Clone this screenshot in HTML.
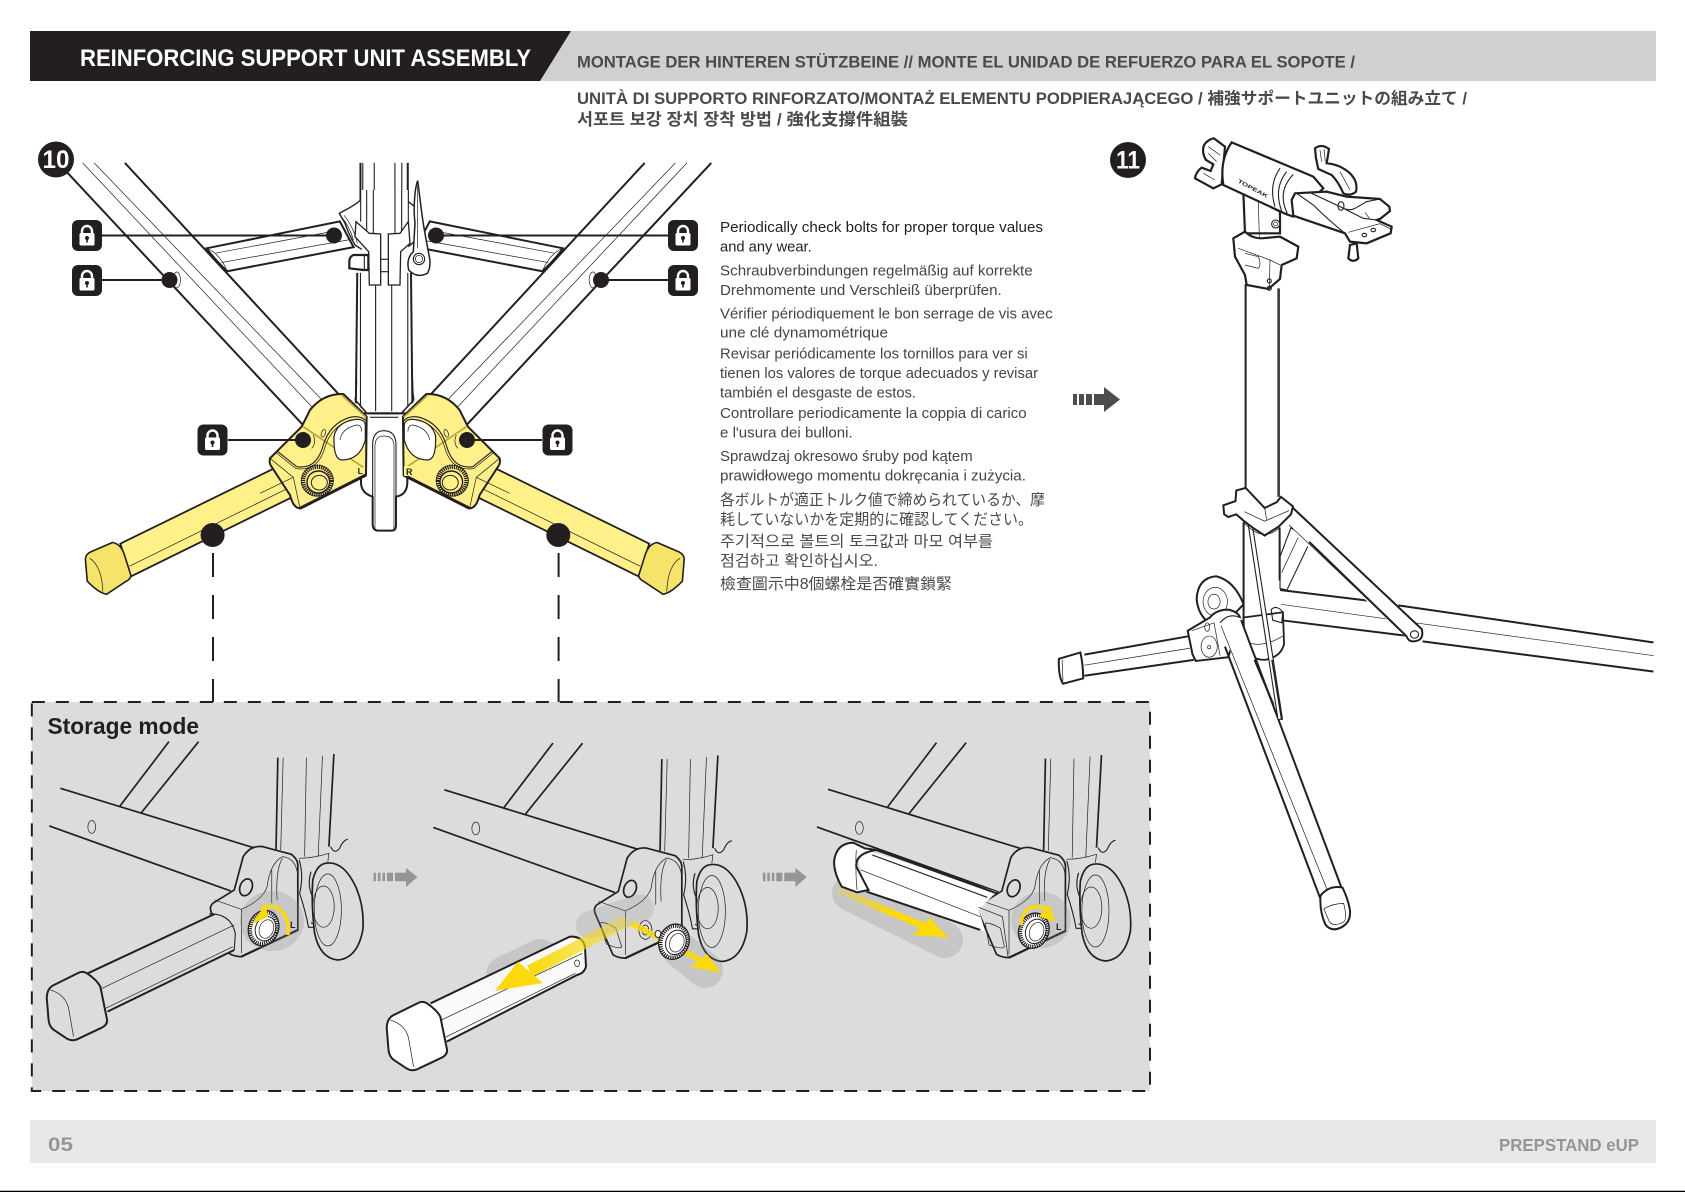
<!DOCTYPE html>
<html><head><meta charset="utf-8"><style>
html,body{margin:0;padding:0;background:#fff}
svg{display:block}
svg *{vector-effect:non-scaling-stroke}
text{stroke:none}
.thin{stroke-width:.7}
.med{stroke-width:1.1}
.b{font-family:"Liberation Sans","Noto Sans CJK JP",sans-serif;font-size:14.5px;fill:#444}
.c{font-size:15.5px;font-weight:400;fill:#4a4a4a}
</style></head><body>
<svg width="1685" height="1192" viewBox="0 0 1685 1192" xmlns="http://www.w3.org/2000/svg">
<defs>
<linearGradient id="fl" x1="1" y1="0" x2="0" y2="0"><stop offset="0" stop-color="#fbd90a" stop-opacity=".35"/><stop offset="1" stop-color="#fbd90a"/></linearGradient>
<linearGradient id="fr" x1="0" y1="0" x2="1" y2="0"><stop offset="0" stop-color="#fbd90a" stop-opacity=".2"/><stop offset=".6" stop-color="#fbd90a"/></linearGradient>
<g id="lock">
<rect x="0" y="0" width="30" height="31" rx="6" fill="#231f20"/>
<path d="M10,14 V11 a5,5 0 0 1 10,0 V14" fill="none" stroke="#fff" stroke-width="2.4"/>
<rect x="7.5" y="13" width="15" height="12.5" rx="1.5" fill="#fff"/>
<circle cx="15" cy="18" r="2" fill="#231f20"/><rect x="14.2" y="18" width="1.6" height="4.5" fill="#231f20"/>
</g>
<g id="ga" fill="#959595">
<rect x="373.6" y="872.7" width="2.5" height="8.5"/><rect x="378" y="872.7" width="2.5" height="8.5"/><rect x="382.5" y="872.7" width="2.5" height="8.5"/><rect x="387" y="872.7" width="6" height="8.5"/><rect x="395" y="872.7" width="12" height="8.5"/>
<polygon points="406,868 417.5,877 406,887"/>
</g>
<path id="cap" d="M75,925 Q75,895 95,885 L165,848 Q178,842 190,852 Q215,870 225,890 L243,985 Q248,1005 225,1015 L160,1048 Q145,1055 130,1045 L95,1020 Q82,1010 80,990Z"/>
<!-- storage view base, in crop-4 coordinates -->
<g id="vb" fill="none" stroke="#231f20" stroke-width="1.7">
<path d="M113,295 L660,475"/><path d="M82,408 L590,603"/><path d="M417,155 L280,348"/><path d="M500,155 L340,368"/>
<ellipse cx="201" cy="411" rx="11" ry="19" class="thin"/>
<path d="M722,203 L717,478"/><path d="M879,192 L865,470"/>
<path class="thin" d="M737,203 L730,480M802,203 L797,500M847,197 L835,500"/>
<path class="med" d="M870,470 Q880,495 895,475 Q905,450 918,448"/>
<path class="thin" d="M780,505 Q820,505 865,490 L862,515"/>
<path fill="#dcdcdc" stroke="none" d="M780,510 L830,530 L860,700 L805,712Z"/>
<path class="med" d="M782,510 Q795,560 783,610 Q800,665 808,712 L828,712"/>
<path class="med" d="M815,545 Q800,595 830,640 Q850,675 835,695 Q825,708 815,698"/>
<path fill="#dcdcdc" d="M855,520 Q905,510 940,590 Q965,650 960,720 Q945,805 890,810 Q840,805 825,730 Q815,640 820,570 Q830,525 855,520Z"/>
<ellipse cx="862" cy="660" rx="38" ry="108" class="thin"/><ellipse cx="850" cy="650" rx="30" ry="62" class="thin"/>
<path fill="#dcdcdc" d="M540,640 L600,600 Q615,540 625,500 Q645,465 680,470 L760,493 Q780,510 778,530 L778,720 L620,800 Q600,800 585,790 L535,665 Q530,650 540,640Z"/>
<path d="M620,800 L778,720" stroke-width="2.2"/>
<ellipse cx="633" cy="592" rx="17" ry="26" transform="rotate(18 633 592)"/>
<path class="thin" d="M545,630 L620,658 L620,790M620,658 Q680,630 692,590 Q700,520 735,500 Q775,505 778,560M705,540 L705,640M735,505 Q715,540 720,630"/>
</g>
<!-- knob -->
<g id="kn" fill="none" stroke="#231f20">
<ellipse cx="0" cy="0" rx="15" ry="18" fill="#fff" stroke-width="1.2"/>
<ellipse cx="0" cy="0" rx="13" ry="16" stroke-width="3.6" stroke-dasharray="1.2 1"/>
<ellipse cx="2" cy="0" rx="10" ry="12.5" fill="#fff" stroke-width="1"/>
<ellipse cx="3" cy="0" rx="7" ry="9.5" stroke-width=".7"/>
</g>
<!-- half of step 10 -->
<g id="half">
<g transform="scale(.4592,.3954)" fill="none" stroke="#231f20" stroke-width="2">
<path d="M127,412 L660,1075"/><path d="M272,412 L740,1000"/>
<path class="thin" d="M180,412 L680,1030M205,412 L700,1010"/>
<ellipse cx="385" cy="708" rx="8" ry="20" class="thin" fill="#fff"/>
<path fill="#fff" d="M450,628 L740,560 L770,625 L495,686 Q470,660 450,628Z"/>
<path class="thin" d="M470,640 L740,582M482,664 L762,606M450,628 Q478,640 495,686"/>
<path fill="#fff08a" stroke-width="1.8" d="M605,1180 L262,1375 L285,1458 L635,1258Z"/>
<path class="thin" d="M282,1432 L632,1232"/>
<path fill="#f5e36a" stroke-width="1.6" d="M186,1415 Q186,1402 197,1396 L245,1372 Q262,1375 270,1400 L285,1455 Q285,1464 275,1470 L232,1503 Q215,1500 190,1470Z"/>
<path class="thin" d="M195,1412 Q215,1425 222,1470 L224,1496"/>
</g>
<g transform="translate(260,380) scale(.3333)" fill="none" stroke="#231f20" stroke-width="2">
<path fill="#fff08a" d="M320,110 L250,42 Q190,40 150,90 L125,140 L30,235 Q26,250 36,262 L90,345 Q100,385 120,385 L318,285Z"/>
<path d="M120,385 L318,285" stroke-width="3"/>
<path stroke="#b7a63a" stroke-width="1.6" d="M130,140 L310,262M245,45 L318,112"/>
<path class="thin" d="M30,235 L100,292 L120,385M100,292 L0,340"/>
<path class="med" d="M50,212 L110,260 Q170,270 190,195 Q210,130 270,112 Q305,105 320,125"/>
<path class="thin" d="M48,218 L108,266 Q176,276 196,198 Q214,140 272,120 Q300,115 316,132"/>
<path fill="#fff" stroke-width="1.2" d="M222,170 Q230,125 290,118 Q318,118 316,140 L316,180 Q300,240 245,240 Q220,238 222,170Z"/>
<path class="thin" d="M240,180 Q245,145 290,135 Q305,135 305,155"/>
<ellipse cx="190" cy="160" rx="6" ry="12" class="thin" transform="rotate(20 190 160)"/>
<path class="thin" d="M155,205 Q170,190 160,165"/>
<ellipse cx="172" cy="302" rx="43" ry="42" stroke-width="4.5" stroke-dasharray="1.3 .9"/>
<ellipse cx="172" cy="302" rx="48" ry="46" class="thin"/>
<ellipse cx="175" cy="306" rx="34" ry="33" stroke-width="1.4"/>
<ellipse cx="178" cy="308" rx="24" ry="22" stroke-width="1"/>
<text x="293" y="282" font-family="Liberation Sans" font-weight="700" font-size="26" fill="#231f20">L</text>
</g>
</g>
</defs>

<!-- header -->
<rect width="1685" height="1192" fill="#fff"/>
<polygon points="540,31 1656,31 1656,81 540,81" fill="#d0d0d0"/>
<polygon points="30,31 571,31 540,81 30,81" fill="#231f20"/>
<text x="80" y="66" font-family="Liberation Sans" font-weight="700" font-size="24" fill="#fff" textLength="451" lengthAdjust="spacingAndGlyphs">REINFORCING SUPPORT UNIT ASSEMBLY</text>
<text x="577" y="67.7" font-family="Liberation Sans" font-weight="700" font-size="16.5" fill="#4a4a4a" textLength="778" lengthAdjust="spacingAndGlyphs">MONTAGE DER HINTEREN STÜTZBEINE // MONTE EL UNIDAD DE REFUERZO PARA EL SOPOTE /</text>
<text x="577" y="104" font-family="'Liberation Sans','Noto Sans CJK JP',sans-serif" font-weight="700" font-size="16.5" fill="#4a4a4a" textLength="890" lengthAdjust="spacingAndGlyphs">UNITÀ DI SUPPORTO RINFORZATO/MONTAŻ ELEMENTU PODPIERAJĄCEGO / 補強サポートユニットの組み立て /</text>
<text x="577" y="125" font-family="'Liberation Sans','Noto Sans CJK KR','Noto Sans CJK TC',sans-serif" font-weight="700" font-size="16.5" fill="#4a4a4a" textLength="331" lengthAdjust="spacingAndGlyphs">서포트 보강 장치 장착 방법 / 強化支撐件組裝</text>

<!-- step 10 centre column -->
<g fill="none" stroke="#231f20" stroke-width="2">
<g transform="scale(.4592,.3954)">
<path d="M785,412 L785,530M888,412 L888,530M778,690 L775,1020M895,690 L898,1020"/>
<path class="med" d="M790,412 L790,530M815,412 L815,530M860,412 L860,530M875,412 L875,530M785,690 L785,1030M818,720 L818,1040M853,720 L853,1040M888,690 L888,1030"/>
</g>
<g transform="translate(260,380) scale(.3333)">
<path class="med" d="M290,0 Q290,40 285,58 L320,98M458,0 Q458,40 462,58 L425,98"/>
<path fill="#fff" d="M303,280 L303,310 Q305,340 338,350 L338,435 Q340,452 355,452 L395,452 Q408,452 408,435 L408,350 Q440,345 442,310 L442,280 L442,100 L303,100Z"/>
<path d="M330,100 L415,100"/><path d="M330,112 L415,112" class="med"/>
<path class="med" d="M338,350 L338,190 Q340,152 372,152 Q405,152 408,190 L408,350"/>
<path class="thin" d="M345,450 L345,195 Q347,168 372,168 Q400,168 402,195 L402,450"/>
<path d="M285,60 L320,100M462,60 L425,100" class="med"/>
</g>
</g>

<use href="#half"/>
<g transform="translate(769.6,0) scale(-1,1)"><use href="#half"/></g>
<rect x="404" y="466" width="10" height="10" fill="#fff08a" stroke="none"/>
<text x="406" y="475" font-family="Liberation Sans" font-weight="700" font-size="9" fill="#231f20">R</text>

<!-- upper clamp -->
<g transform="translate(320,190) scale(.3333)" fill="none" stroke="#231f20" stroke-width="2">
<path fill="#fff" stroke="none" d="M122,30 C100,50 75,60 58,70 L75,100 Q85,130 105,165 L135,190 L240,190 L300,140 L335,65 L265,35 L265,0 L122,0Z"/>
<path stroke-width="1.4" d="M122,30 C100,50 75,60 58,70 L75,100 Q85,130 105,165 L125,178"/>
<path stroke-width="1.4" d="M265,35 L285,50M300,140 L265,170"/>
<path class="med" d="M122,0 L122,95M265,0 L265,95M140,0 L140,125M160,0 L160,130M225,0 L225,130M245,0 L245,130"/>
<path class="thin" d="M62,78 Q90,110 100,150M72,76 Q100,110 112,160"/>
<path fill="#fff" stroke-width="1.3" d="M108,95 L148,130 L182,132 L182,285 L148,285 L146,185 L105,140Z"/>
<path fill="#fff" stroke-width="1.3" d="M265,95 L240,130 L205,132 L205,285 L240,285 L242,185 L270,160Z"/>
<path class="med" d="M182,208 L205,208M182,245 L205,245"/>
<path fill="#fff" stroke-width="2.2" d="M145,195 L100,195 Q88,200 88,215 L88,235 L130,240 L145,240Z"/>
<path class="med" d="M133,195 L133,240"/>
<path fill="#fff" stroke-width="1.5" d="M293,-28 C283,0 280,60 285,100 L280,185 Q258,205 266,240 Q290,266 322,250 Q334,230 328,200 Q322,170 315,130 C305,80 300,20 293,-28Z"/>
<path class="thin" d="M293,-15 L293,175"/>
<circle cx="297" cy="207" r="17" class="med" fill="#fff"/><circle cx="297" cy="207" r="11" class="thin"/>
</g>

<!-- step badges -->
<circle cx="56" cy="159.5" r="18" fill="#231f20"/>
<text x="56" y="168" text-anchor="middle" font-family="Liberation Sans" font-weight="700" font-size="25" fill="#fff" textLength="27" lengthAdjust="spacingAndGlyphs">10</text>
<circle cx="1128" cy="160" r="18" fill="#231f20"/>
<text x="1128" y="168.5" text-anchor="middle" font-family="Liberation Sans" font-weight="700" font-size="25" fill="#fff" textLength="24" lengthAdjust="spacingAndGlyphs">11</text>

<!-- leaders, bullets, locks -->
<g stroke="#231f20" stroke-width="2" fill="none">
<path d="M102,235.5 H334M436,235.5 H668M102,280 H169M601,280 H668M228,440 H303M467,440 H542"/>
<path d="M213,553 V702M558.6,553 V702" stroke-dasharray="24 18"/>
</g>
<g fill="#231f20">
<circle cx="334" cy="235.5" r="8"/><circle cx="436" cy="235.5" r="8"/><circle cx="169.5" cy="280" r="8"/><circle cx="601" cy="280" r="8"/>
<circle cx="303" cy="440" r="8"/><circle cx="467" cy="440" r="8"/><circle cx="212.6" cy="535" r="12"/><circle cx="558.3" cy="535" r="12"/>
</g>
<use href="#lock" x="72" y="220"/><use href="#lock" x="72" y="265"/><use href="#lock" x="668" y="220"/><use href="#lock" x="668" y="265"/>
<use href="#lock" x="197.5" y="424.5"/><use href="#lock" x="542.5" y="424.5"/>

<!-- body text -->
<g>
<text class="b" x="720" y="232" style="fill:#231f20" textLength="323" lengthAdjust="spacingAndGlyphs">Periodically check bolts for  proper torque values</text>
<text class="b" x="720" y="251.7" style="fill:#231f20" textLength="91.7" lengthAdjust="spacingAndGlyphs">and any wear.</text>
<text class="b" x="720" y="275.7" textLength="312.7" lengthAdjust="spacingAndGlyphs">Schraubverbindungen regelmäßig auf korrekte</text>
<text class="b" x="720" y="295" textLength="281.7" lengthAdjust="spacingAndGlyphs">Drehmomente und Verschleiß überprüfen.</text>
<text class="b" x="720" y="318.3" textLength="332.7" lengthAdjust="spacingAndGlyphs">Vérifier périodiquement le bon serrage de vis avec</text>
<text class="b" x="720" y="337.7" textLength="168" lengthAdjust="spacingAndGlyphs">une clé dynamométrique</text>
<text class="b" x="720" y="358.7" textLength="307.7" lengthAdjust="spacingAndGlyphs">Revisar periódicamente los tornillos para ver si</text>
<text class="b" x="720" y="378" textLength="318" lengthAdjust="spacingAndGlyphs">tienen los valores de torque adecuados y revisar</text>
<text class="b" x="720" y="397.3" textLength="196" lengthAdjust="spacingAndGlyphs">también el desgaste de estos.</text>
<text class="b" x="720" y="418" textLength="306.7" lengthAdjust="spacingAndGlyphs">Controllare periodicamente la coppia di carico</text>
<text class="b" x="720" y="437.3" textLength="132.7" lengthAdjust="spacingAndGlyphs">e l'usura dei bulloni.</text>
<text class="b" x="720" y="461" textLength="252.7" lengthAdjust="spacingAndGlyphs">Sprawdzaj okresowo śruby pod kątem</text>
<text class="b" x="720" y="480.3" textLength="306" lengthAdjust="spacingAndGlyphs">prawidłowego momentu dokręcania i zużycia.</text>
<text class="b c" x="720" y="505" textLength="325" lengthAdjust="spacingAndGlyphs">各ボルトが適正トルク値で締められているか、摩</text>
<text class="b c" x="720" y="524.3" textLength="313" lengthAdjust="spacingAndGlyphs">耗していないかを定期的に確認してください。</text>
<text class="b c" x="720" y="546.7" style="font-family:'Liberation Sans','Noto Sans CJK KR',sans-serif" textLength="273" lengthAdjust="spacingAndGlyphs">주기적으로 볼트의 토크값과 마모 여부를</text>
<text class="b c" x="720" y="566" style="font-family:'Liberation Sans','Noto Sans CJK KR',sans-serif" textLength="158" lengthAdjust="spacingAndGlyphs">점검하고 확인하십시오.</text>
<text class="b c" x="720" y="589" style="font-family:'Liberation Sans','Noto Sans CJK TC',sans-serif" textLength="232" lengthAdjust="spacingAndGlyphs">檢查圖示中8個螺栓是否確實鎖緊</text>
</g>

<!-- arrow to step 11 -->
<g fill="#4d4d4d">
<rect x="1073" y="394" width="4" height="11"/><rect x="1079" y="394" width="5" height="11"/><rect x="1086" y="394" width="6" height="11"/><rect x="1094" y="394" width="11" height="11"/>
<polygon points="1104,387 1120,399.5 1104,412"/>
</g>

<!-- step 11 stand -->
<g transform="translate(1050,120) scale(.405,.5293)" fill="none" stroke="#231f20" stroke-width="2">
<path d="M568,888 L785,908M860,917 L1490,987M570,945 L885,975M920,985 L1490,1042"/>
<path class="thin" d="M570,915 L1490,1012"/>
<path fill="#fff" class="med" d="M568,825 L595,770 L640,800 L585,888 L568,885Z"/>
<path class="thin" d="M572,855 L615,785"/>
<path d="M483,310 L483,700M478,760 L478,990M567,770 L567,870"/>
<path d="M563,318 L563,712" stroke-width="1.2"/><path d="M566,318 L566,712" stroke-width="1.2"/>
<path fill="#fff" stroke="none" d="M600,733 L918,962 Q920,985 890,985 L600,780Z"/>
<path stroke-width="2" d="M600,733 L918,962 Q925,985 895,985 Q885,985 880,975 L640,797"/>
<path class="thin" d="M590,765 L880,975"/>
<ellipse cx="900" cy="972" rx="10" ry="7" class="med"/>
<path fill="#fff" d="M362,905 Q365,865 410,862 Q455,870 478,915 L440,945 L385,945 Q365,930 362,905Z"/>
<ellipse cx="408" cy="910" rx="30" ry="27" class="thin"/><ellipse cx="405" cy="910" rx="15" ry="14" class="thin"/>
<path fill="#fff" stroke-width="1.8" d="M478,940 L480,990 Q490,1020 530,1020 Q570,1015 578,990 L575,930 Z"/>
<path class="thin" d="M483,985 Q520,1000 575,975"/>
<path class="med" d="M546,925 Q560,915 575,930 L572,950 L550,945Z"/>
<path d="M345,975 L85,1010M355,1020 L85,1050"/><path class="thin" d="M345,998 L85,1030"/>
<path fill="#fff" d="M22,1018 L75,1006 Q82,1030 82,1055 L32,1065 Q20,1050 22,1018Z"/>
<path class="thin" d="M30,1020 L32,1060"/>
<path fill="#fff" d="M340,965 L395,940 Q410,925 440,925 Q470,930 470,945 L440,1015 L360,1022 L352,1010Z"/>
<path class="thin" d="M350,965 L405,950 L420,1012"/>
<circle cx="393" cy="995" r="20" class="thin"/><ellipse cx="393" cy="996" rx="4" ry="3" class="thin"/>
<ellipse cx="388" cy="958" rx="6" ry="8" class="thin"/>
<path fill="#fff" stroke="none" d="M420,950 L470,940 L725,1455 L670,1470Z"/>
<path d="M432,995 L667,1470"/><path d="M472,945 L722,1455"/>
<path class="thin" d="M422,955 L690,1465"/>
<path class="med" d="M420,950 Q440,930 470,940"/>
<path d="M505,1020 L552,1105"/>
<path fill="#fff" class="med" d="M488,757 L498,757 L574,1132 L563,1133Z"/>
<path d="M548,1020 L572,1133" stroke-width="1.5"/>
<path fill="#fff" d="M428,728 L458,720 L460,700 L483,695 L530,733 L560,722 L570,712 L600,730 L595,745 L565,768 L530,785 L500,770 L478,757 L460,745 L440,750 L430,745Z"/>
<path class="thin" d="M480,740 L530,758 L590,738M530,733 L535,755M478,760 Q525,800 567,770"/>
<path fill="#fff" d="M668,1465 Q690,1445 722,1450 Q735,1470 740,1490 Q745,1515 720,1525 Q695,1535 680,1520 Q665,1495 668,1465Z"/>
<path class="thin" d="M676,1490 Q700,1480 725,1480 Q735,1510 725,1515 Q700,1525 690,1515Z"/>
</g>

<!-- step 11 head -->
<g transform="translate(1180,125) scale(.3333)" fill="none" stroke="#231f20" stroke-width="2.2">
<path fill="#fff" d="M190,200 L195,325 L300,325 L300,260Z"/>
<path class="thin" d="M235,230 L238,335"/>
<circle cx="287" cy="297" r="12" class="med" fill="#fff"/><circle cx="287" cy="297" r="6" class="thin"/>
<path fill="#fff" d="M160,340 L195,320 Q215,340 245,340 L300,335 L355,365 L350,400 L305,420 L300,462 L265,492 L200,480 L195,450 L165,395Z"/>
<path class="thin" d="M175,370 L270,405 L300,420M270,405 L268,490M195,385 L235,395 Q245,420 235,430 L195,420"/>
<circle cx="268" cy="468" r="6" class="med"/><circle cx="268" cy="490" r="6" class="med"/>
<path fill="#fff" d="M135,65 L102,40 Q85,42 72,60 Q64,82 78,105 L100,118 L92,138 L65,128 Q48,140 45,160 L100,190 L125,178Z"/>
<path class="thin" d="M85,65 L120,90M85,85 L110,110M70,145 L105,165"/>
<path fill="#fff" d="M155,52 L400,155 L430,190 L340,275 L320,268 L130,180 Q118,105 155,52Z"/>
<path class="med" d="M300,130 Q265,180 285,245M320,140 Q280,190 305,258M340,148 Q290,200 322,265"/>
<text x="172" y="172" font-family="Liberation Sans" font-weight="700" font-size="16" fill="#231f20" transform="rotate(28 172 172)" textLength="100" lengthAdjust="spacingAndGlyphs">TOPEAK</text>
<path fill="#fff" d="M345,205 L440,200 L500,215 L600,222 L628,245 L630,258 L600,282 L590,285 L635,305 L632,325 L560,355 L510,350 L495,325 L340,272 L335,225Z"/>
<path class="med" d="M350,205 L400,240 Q445,285 495,325M395,205 L480,245 L550,280 L590,285M480,245 Q505,260 525,250 L560,230 L600,222"/>
<path class="thin" d="M505,322 L600,296 L632,312M555,262 L568,280"/>
<ellipse cx="483" cy="243" rx="9" ry="13" class="med"/>
<ellipse cx="553" cy="330" rx="7" ry="5" class="med"/><ellipse cx="580" cy="315" rx="7" ry="5" class="med"/>
<path fill="#fff" d="M405,70 Q425,55 447,72 L440,115 Q480,118 510,145 Q535,170 528,200 Q510,215 490,205 Q475,170 455,150 L415,132 L408,100Z"/>
<path class="thin" d="M420,75 L425,110M432,72 L436,110M480,140 L510,195"/>
<path fill="#fff" d="M510,360 L505,400 Q520,415 535,400 L530,355Z"/>
</g>

<!-- storage box -->
<rect x="31.8" y="702" width="1118.2" height="389" fill="#dcdcdc" stroke="#231f20" stroke-width="2" stroke-dasharray="13 11"/>
<text x="47.5" y="734" font-family="Liberation Sans" font-weight="700" font-size="23" fill="#231f20" textLength="151.5" lengthAdjust="spacingAndGlyphs">Storage mode</text>

<!-- View 1 -->
<g transform="translate(20,690) scale(.3571,.3333)"><use href="#vb"/></g>
<ellipse cx="272" cy="921" rx="32" ry="30" fill="#888" opacity=".25"/>
<g transform="translate(20,690) scale(.3571,.3333)" fill="none" stroke="#231f20" stroke-width="2">
<path fill="#dcdcdc" stroke="none" d="M190,850 L545,672 L600,780 L245,965Z"/>
<path d="M190,850 L545,672"/><path d="M245,965 L600,780"/><path class="thin" d="M240,955 L596,770M230,895 L600,705"/>
<path class="med" d="M530,672 Q590,670 603,730 L600,780"/>
<use href="#cap" fill="#dcdcdc"/>
<path class="thin" d="M85,900 Q130,915 137,960 L150,1040"/>
</g>
<use href="#kn" transform="translate(263.6,928) rotate(20)"/>
<path d="M288,935 C290,910 275,903 262,908" fill="none" stroke="#fbd90a" stroke-width="3.5"/>
<polygon points="266,903 252,924 268,917" fill="#fbd90a"/>
<text x="290" y="928" font-family="Liberation Sans" font-weight="700" font-size="9" fill="#231f20">L</text>

<!-- View 2 -->
<g transform="translate(404,691.5) scale(.3571,.3333)"><use href="#vb"/></g>
<g transform="translate(570,690) scale(.3827,.3333)" fill="none" stroke="#231f20">
<path class="thin" d="M78,700 Q90,692 120,715 L135,770 Q130,780 95,762Z"/>
<ellipse cx="197" cy="720" rx="17" ry="28" stroke-width=".8"/><ellipse cx="197" cy="720" rx="9" ry="15" stroke-width=".8"/>
</g>
<path d="M505,975 L540,958" stroke="#888" stroke-width="38" stroke-linecap="round" opacity=".25" fill="none"/>
<path d="M590,925 L640,908" stroke="#888" stroke-width="28" stroke-linecap="round" opacity=".2" fill="none"/>
<path d="M680,950 L705,970" stroke="#888" stroke-width="36" stroke-linecap="round" opacity=".25" fill="none"/>
<g transform="translate(20,690) scale(.3571,.3333)" fill="none" stroke="#231f20" stroke-width="2">
<path fill="#fff" stroke="none" d="M1150,940 L1540,740 Q1575,738 1582,770 L1585,830 Q1580,850 1560,855 L1195,1055Z" opacity=".85"/>
<path d="M1150,940 L1540,740 Q1575,738 1582,770 L1585,830 Q1580,850 1560,855 L1195,1055"/>
<path class="thin" d="M1185,1045 L1555,850M1180,990 L1575,790"/>
<ellipse cx="1560" cy="820" rx="7" ry="10" class="thin"/>
<use href="#cap" fill="#fff" transform="translate(952,90)"/>
<path class="thin" d="M1037,990 Q1082,1005 1089,1050 L1102,1130"/>
</g>
<path d="M627,921 L530,971" stroke="url(#fl)" stroke-width="12" fill="none"/>
<polygon points="518,961.7 495,990.7 543,983" fill="#fbd90a"/>
<path d="M631,923 L700,960" stroke="#fbd90a" stroke-width="6" fill="none" opacity=".85"/>
<polygon points="721,972.7 690.5,967 707,954" fill="#fbd90a"/>
<ellipse cx="658" cy="934" rx="3" ry="3.5" fill="#fff" stroke="#231f20"/>
<use href="#kn" transform="translate(674,941.7) rotate(20)"/>

<!-- View 3 -->
<g transform="translate(787.6,691) scale(.3571,.3333)"><use href="#vb"/></g>
<path d="M850,893 L945,940" stroke="#888" stroke-width="36" stroke-linecap="round" opacity=".25" fill="none"/>
<g transform="translate(570,690) scale(.3827,.3333)" fill="none" stroke="#231f20" stroke-width="2">
<path fill="#fff" stroke="none" d="M745,470 L1115,605 L1068,660 L1085,725 L775,605Z"/>
<path d="M800,480 L1115,610"/><path d="M775,605 L1072,720"/>
<path class="med" d="M790,495 L1090,622"/>
<path class="thin" d="M760,540 L1072,680"/>
<path fill="#fff" d="M690,515 Q695,460 740,458 L770,475 L800,480 Q745,490 748,530 L780,600 L750,607 Q745,605 710,590 Q690,550 690,515Z"/>
<path class="thin" d="M748,480 Q745,540 750,600"/>
<path class="thin" d="M1068,652 L1130,680 L1145,803"/>
<path class="thin" d="M1085,700 Q1095,695 1125,715 L1135,770 Q1130,780 1095,765Z"/>
</g>
<path d="M838,890 L928,928" stroke="url(#fr)" stroke-width="7" fill="none"/>
<polygon points="948.9,937.7 912.5,935 929.7,918" fill="#fbd90a"/>
<ellipse cx="1041" cy="920" rx="30" ry="28" fill="#888" opacity=".25"/>
<use href="#kn" transform="translate(1033.8,930.7) rotate(20)"/>
<path d="M1021,925 C1022,908 1034,903 1046,909" fill="none" stroke="#fbd90a" stroke-width="3.5"/>
<polygon points="1055,922 1039,916 1050,905" fill="#fbd90a"/>
<text x="1056" y="930" font-family="Liberation Sans" font-weight="700" font-size="9" fill="#231f20">L</text>

<!-- storage arrows -->
<use href="#ga"/><use href="#ga" transform="translate(389.3,0)"/>

<!-- footer -->
<rect x="30" y="1120" width="1626" height="43" fill="#e8e8e8"/>
<text x="48" y="1151" font-family="Liberation Sans" font-weight="700" font-size="19.5" fill="#959595" textLength="25" lengthAdjust="spacingAndGlyphs">05</text>
<text x="1499" y="1151" font-family="Liberation Sans" font-weight="700" font-size="17.5" fill="#959595" textLength="140" lengthAdjust="spacingAndGlyphs">PREPSTAND eUP</text>
<rect x="0" y="1190.7" width="1685" height="1.3" fill="#000"/>
</svg>
</body></html>
